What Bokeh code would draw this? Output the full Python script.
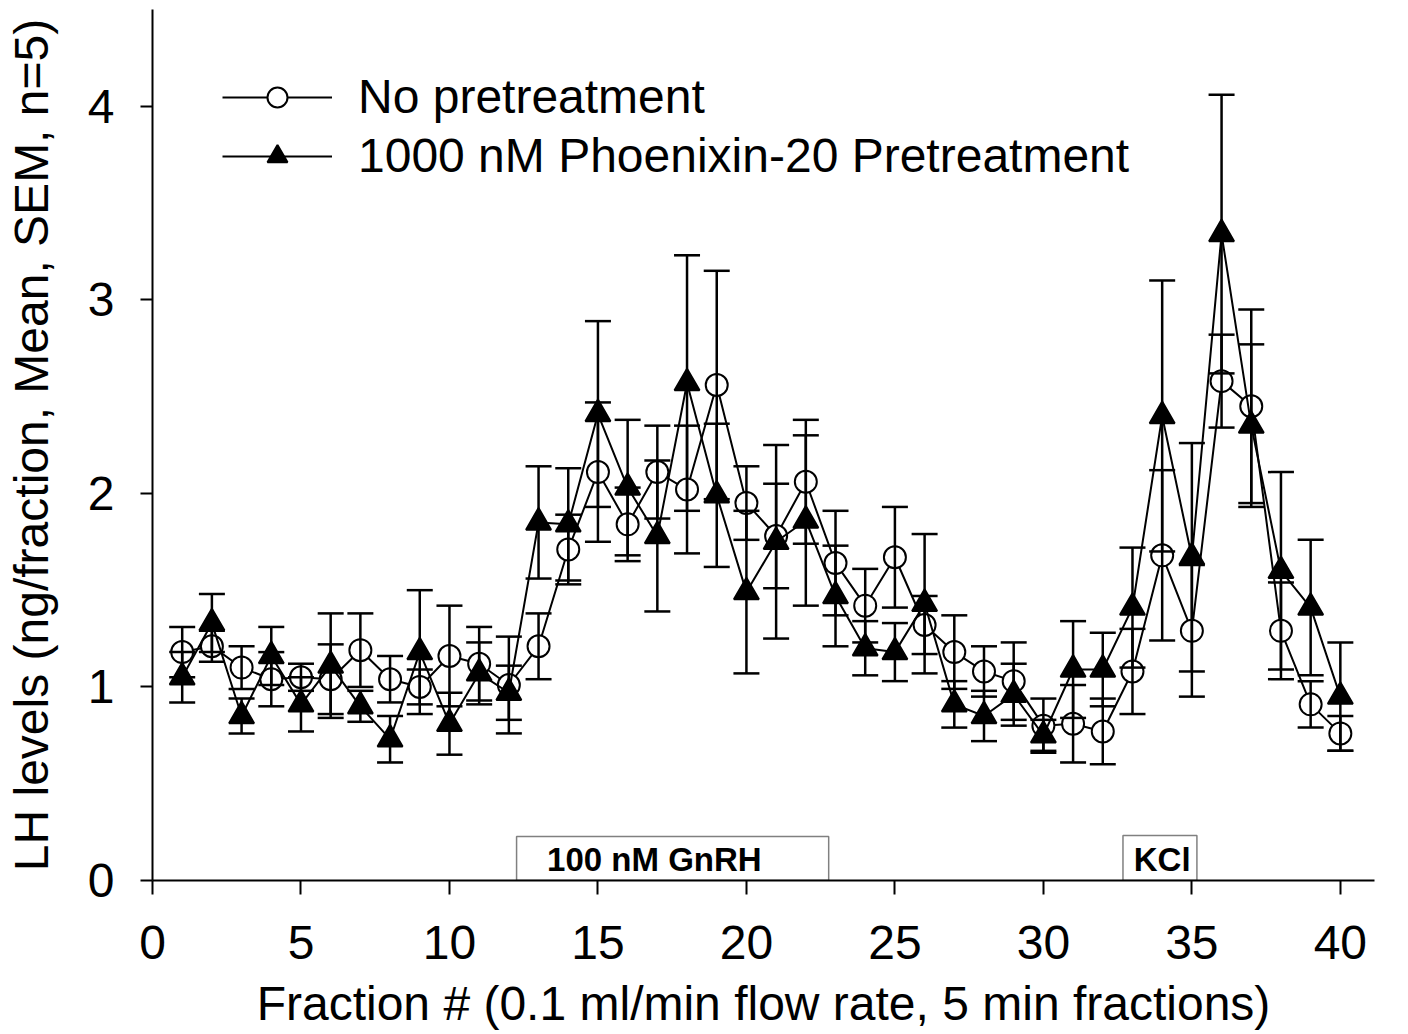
from bokeh.plotting import figure
from bokeh.models import (ColumnDataSource, Whisker, TeeHead, Legend, LegendItem,
                          Range1d, FixedTicker)
from bokeh.embed import file_html
from bokeh.resources import INLINE
from bokeh.core.properties import value

# ---------------- data ----------------
fraction = list(range(1, 41))

no_pre_mean = [1.18, 1.21, 1.10, 1.04, 1.05, 1.04, 1.19, 1.04, 1.00, 1.16,
               1.12, 1.01, 1.21, 1.71, 2.11, 1.84, 2.11, 2.02, 2.56, 1.95,
               1.78, 2.06, 1.64, 1.42, 1.67, 1.32, 1.18, 1.08, 1.03, 0.80,
               0.81, 0.77, 1.08, 1.68, 1.29, 2.58, 2.45, 1.29, 0.91, 0.76]
no_pre_sem = [0.13, 0.08, 0.11, 0.14, 0.07, 0.18, 0.19, 0.12, 0.09, 0.26,
              0.19, 0.25, 0.17, 0.18, 0.36, 0.19, 0.24, 0.33, 0.59, 0.19,
              0.27, 0.32, 0.27, 0.19, 0.26, 0.15, 0.19, 0.13, 0.20, 0.14,
              0.20, 0.17, 0.22, 0.44, 0.34, 0.24, 0.50, 0.25, 0.12, 0.09]

pnx_mean = [1.05, 1.33, 0.85, 1.16, 0.91, 1.11, 0.90, 0.73, 1.18, 0.81,
            1.07, 0.97, 1.85, 1.84, 2.41, 2.03, 1.78, 2.57, 1.99, 1.49,
            1.75, 1.86, 1.47, 1.20, 1.18, 1.43, 0.91, 0.85, 0.96, 0.75,
            1.09, 1.09, 1.41, 2.40, 1.67, 3.34, 2.35, 1.60, 1.41, 0.95]
pnx_sem = [0.13, 0.15, 0.09, 0.15, 0.14, 0.27, 0.08, 0.12, 0.32, 0.16,
           0.16, 0.14, 0.29, 0.29, 0.48, 0.35, 0.39, 0.66, 0.37, 0.42,
           0.50, 0.44, 0.26, 0.14, 0.15, 0.36, 0.12, 0.13, 0.16, 0.08,
           0.25, 0.19, 0.31, 0.70, 0.59, 0.72, 0.42, 0.51, 0.35, 0.28]

series_labels = ["No pretreatment", "1000 nM Phoenixin-20 Pretreatment"]

x_ticks = [0, 5, 10, 15, 20, 25, 30, 35, 40]
y_ticks = [0, 1, 2, 3, 4]

bar_labels = ["100 nM GnRH", "KCl"]
bar_left = [12.26, 32.68]
bar_right = [22.77, 35.17]
bar_top = [0.227, 0.232]
bar_label_x = [16.9, 34.0]
bar_label_y = [0.11, 0.11]

x_title = "Fraction # (0.1 ml/min flow rate, 5 min fractions)"
y_title = "LH levels (ng/fraction, Mean, SEM, n=5)"

FONT = "Liberation Sans"

# ---------------- figure ----------------
p = figure(frame_width=1222, frame_height=871,
           min_border_left=152, min_border_right=10,
           min_border_top=9, min_border_bottom=152,
           x_range=Range1d(0, 41.15), y_range=Range1d(0, 4.5),
           output_backend="svg", toolbar_location=None)
p.background_fill_color = "white"
p.border_fill_color = "white"
p.outline_line_color = None
p.xgrid.visible = False
p.ygrid.visible = False

for ax in (p.xaxis[0], p.yaxis[0]):
    ax.axis_line_width = 2
    ax.axis_line_color = "black"
    ax.major_tick_line_width = 2
    ax.major_tick_line_color = "black"
    ax.major_tick_in = 0
    ax.minor_tick_line_color = None
    ax.major_label_text_font = FONT
    ax.major_label_text_font_size = "48px"
    ax.major_label_text_color = "black"
    ax.axis_label_text_font = FONT
    ax.axis_label_text_font_size = "48px"
    ax.axis_label_text_font_style = "normal"
    ax.axis_label_text_color = "black"

p.xaxis.ticker = FixedTicker(ticks=x_ticks)
p.yaxis.ticker = FixedTicker(ticks=y_ticks)
p.xaxis.major_tick_out = 14
p.yaxis.major_tick_out = 12
p.xaxis.major_label_standoff = 31
p.yaxis.major_label_standoff = 26
p.xaxis.axis_label = x_title
p.yaxis.axis_label = y_title
p.xaxis.axis_label_standoff = 15
p.yaxis.axis_label_standoff = 27

# ---------------- treatment boxes ----------------
p.quad(left=bar_left, right=bar_right, bottom=0, top=bar_top,
       fill_color=None, line_color="#808080", line_width=1.5)
p.text(x=bar_label_x, y=bar_label_y, text=bar_labels,
       text_align="center", text_baseline="middle",
       text_font=value(FONT), text_font_style="bold",
       text_font_size="33px", text_color="black")

# ---------------- series ----------------
def add_series(mean, sem, marker, fill, size):
    src = ColumnDataSource(dict(
        x=fraction, y=mean,
        lo=[m - s for m, s in zip(mean, sem)],
        hi=[m + s for m, s in zip(mean, sem)]))
    w = Whisker(source=src, base="x", upper="hi", lower="lo",
                dimension="height", line_width=2.5, line_color="black",
                upper_head=TeeHead(size=26, line_width=2.5, line_color="black"),
                lower_head=TeeHead(size=26, line_width=2.5, line_color="black"),
                level="glyph")
    p.add_layout(w)
    ln = p.line("x", "y", source=src, line_width=2, line_color="black")
    sc = p.scatter("x", "y", source=src, marker=marker, size=size,
                   fill_color=fill, line_color="black", line_width=2)
    return ln, sc

l1, s1 = add_series(no_pre_mean, no_pre_sem, "circle", "white", 22)
l2, s2 = add_series(pnx_mean, pnx_sem, "triangle", "black", 25)

legend = Legend(items=[LegendItem(label=series_labels[0], renderers=[l1, s1]),
                       LegendItem(label=series_labels[1], renderers=[l2, s2])],
                location=(70, 697), glyph_width=110, glyph_height=50,
                label_height=52, spacing=4, label_standoff=26,
                label_text_font=FONT, label_text_font_size="48px",
                label_text_color="black", padding=0, margin=0,
                border_line_color=None, background_fill_alpha=0)
p.add_layout(legend)

open("out.html", "w").write(file_html(p, INLINE))
